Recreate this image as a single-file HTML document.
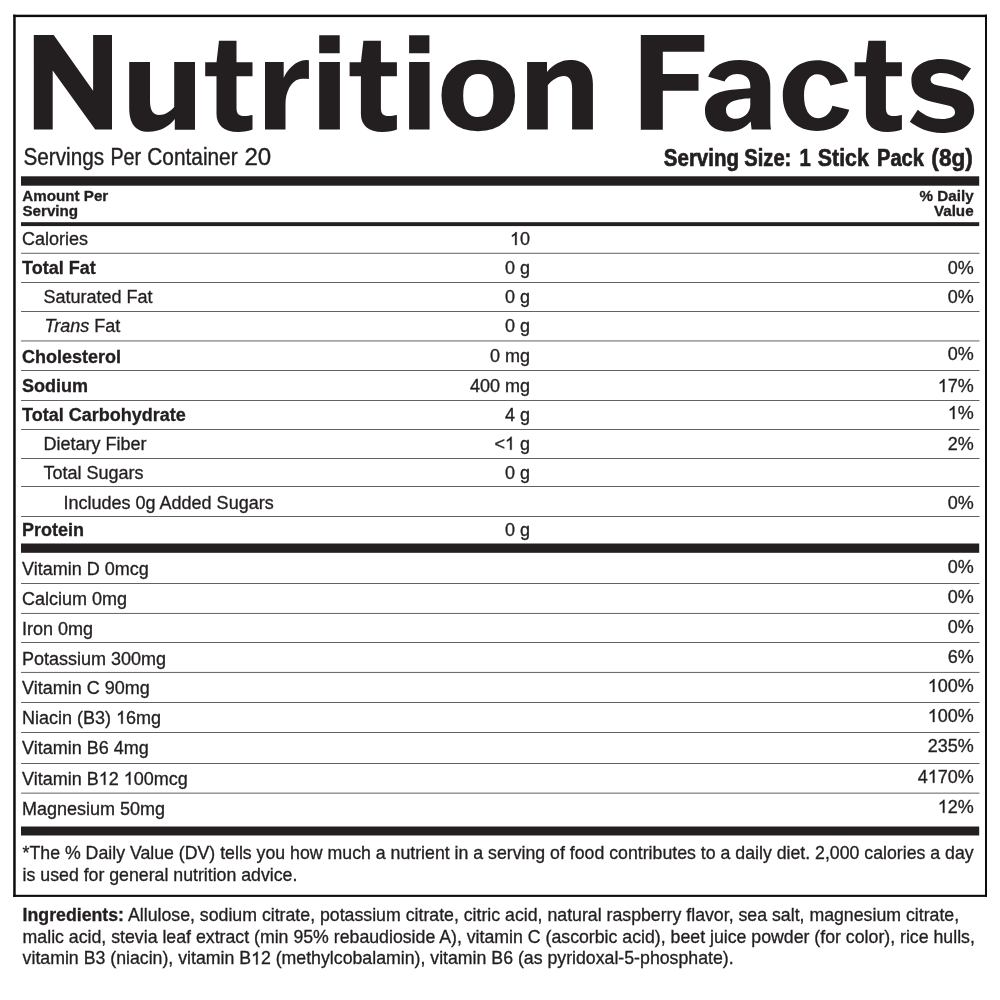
<!DOCTYPE html>
<html><head><meta charset="utf-8"><title>Nutrition Facts</title>
<style>
html,body{margin:0;padding:0;background:#fff;}
svg{display:block;will-change:transform;}
text{font-family:"Liberation Sans",sans-serif;fill:#231f20;}
.b text{stroke:#231f20;stroke-width:0.32px;}
.b .one{fill:none;stroke:none;}
</style></head>
<body>
<svg width="1000" height="1000" viewBox="0 0 1000 1000">
<rect x="0" y="0" width="1000" height="1000" fill="#fff"/>
<rect x="13.2" y="14.7" width="973.8" height="2.4" fill="#0e0c0b"/>
<rect x="13.2" y="14.7" width="2.5" height="882.2" fill="#0e0c0b"/>
<rect x="985.0" y="14.7" width="2.0" height="882.2" fill="#0e0c0b"/>
<rect x="13.2" y="894.8" width="973.8" height="2.1" fill="#0e0c0b"/>
<rect x="21.0" y="176.3" width="958.2" height="9.4" fill="#231f20"/>
<rect x="21.0" y="222.2" width="958.2" height="3.9" fill="#231f20"/>
<rect x="21.0" y="543.5" width="958.2" height="9.3" fill="#231f20"/>
<rect x="21.0" y="826.5" width="958.2" height="9.0" fill="#231f20"/>
<rect x="21.0" y="252.85" width="958.5" height="0.7" fill="#231f20"/>
<rect x="21.0" y="282.1" width="958.5" height="0.7" fill="#231f20"/>
<rect x="21.0" y="311.0" width="958.5" height="0.7" fill="#231f20"/>
<rect x="21.0" y="340.6" width="958.5" height="0.7" fill="#231f20"/>
<rect x="21.0" y="370.05" width="958.5" height="0.7" fill="#231f20"/>
<rect x="21.0" y="400.1" width="958.5" height="0.7" fill="#231f20"/>
<rect x="21.0" y="429.15" width="958.5" height="0.7" fill="#231f20"/>
<rect x="21.0" y="458.15" width="958.5" height="0.7" fill="#231f20"/>
<rect x="21.0" y="486.2" width="958.5" height="0.7" fill="#231f20"/>
<rect x="21.0" y="516.1" width="958.5" height="0.7" fill="#231f20"/>
<rect x="21.0" y="583.15" width="958.5" height="0.7" fill="#231f20"/>
<rect x="21.0" y="612.95" width="958.5" height="0.7" fill="#231f20"/>
<rect x="21.0" y="642.25" width="958.5" height="0.7" fill="#231f20"/>
<rect x="21.0" y="671.95" width="958.5" height="0.7" fill="#231f20"/>
<rect x="21.0" y="702.15" width="958.5" height="0.7" fill="#231f20"/>
<rect x="21.0" y="732.1" width="958.5" height="0.7" fill="#231f20"/>
<rect x="21.0" y="763.15" width="958.5" height="0.7" fill="#231f20"/>
<rect x="21.0" y="792.75" width="958.5" height="0.7" fill="#231f20"/>
<path d="M 33.8 35 L 53.7 35 L 93.1 90.7 L 93.1 35 L 112 35 L 112 129.6 L 95.2 129.6 L 52.7 70.4 L 52.7 129.6 L 33.8 129.6 Z" fill="#231f20" fill-rule="evenodd"/>
<path d="M 129.2 62 L 150 62 L 150 101 C 150 110 153 115 159 115 C 165 115 170 111.5 174.2 107 L 174.2 62 L 195 62 L 195 129.8 L 174.8 129.8 L 174.8 119 C 169 126.5 160 131.8 148.4 131.8 C 135 131.8 129.2 123 129.2 108 Z" fill="#231f20" fill-rule="evenodd"/>
<path d="M 219.0 40.8 L 236.5 40.8 L 236.5 62.2 L 252.5 62.2 L 252.5 76.2 L 236.5 76.2 L 236.5 108 C 236.5 114 239.0 116 244.0 116 C 247.0 116 250.0 115.5 252.5 115 L 252.5 129.5 C 249.0 131 244.0 132 238.0 132 C 224.0 132 216.5 125 216.5 114 L 216.5 76.2 L 205.2 76.2 L 205.2 62.2 L 216.5 62.2 Z" fill="#231f20" fill-rule="evenodd"/>
<path d="M 265 62.1 L 283.7 62.1 L 283.7 78 C 287 70 296 60.1 306 60.1 L 308.9 60.3 L 308.9 79 C 305 78.6 302 78.6 299 79.2 C 291 81 285.5 92 285.5 104 L 285.5 129.6 L 265 129.6 Z" fill="#231f20" fill-rule="evenodd"/>
<path d="M 319.2 62.1 L 339.9 62.1 L 339.9 129.6 L 319.2 129.6 Z M 319.2 35.2 L 339.7 35.2 L 339.7 53.3 L 319.2 53.3 Z" fill="#231f20" fill-rule="evenodd"/>
<path d="M 363.40000000000003 40.8 L 380.90000000000003 40.8 L 380.90000000000003 62.2 L 396.90000000000003 62.2 L 396.90000000000003 76.2 L 380.90000000000003 76.2 L 380.90000000000003 108 C 380.90000000000003 114 383.40000000000003 116 388.40000000000003 116 C 391.40000000000003 116 394.40000000000003 115.5 396.90000000000003 115 L 396.90000000000003 129.5 C 393.40000000000003 131 388.40000000000003 132 382.40000000000003 132 C 368.40000000000003 132 360.90000000000003 125 360.90000000000003 114 L 360.90000000000003 76.2 L 349.6 76.2 L 349.6 62.2 L 360.90000000000003 62.2 Z" fill="#231f20" fill-rule="evenodd"/>
<path d="M 409.1 62.1 L 429.6 62.1 L 429.6 129.6 L 409.1 129.6 Z M 409.1 35.2 L 429.40000000000003 35.2 L 429.40000000000003 53.3 L 409.1 53.3 Z" fill="#231f20" fill-rule="evenodd"/>
<path d="M 527.1 62.1 L 547 62.1 L 547 71.9 C 553 65 561 60.1 570 60.1 C 584 60.1 592.9 68 592.9 84 L 592.9 129.6 L 572.1 129.6 L 572.1 88 C 572.1 80 569 76 564 76 C 558 76 552 80 547.8 85.2 L 547.8 129.6 L 527.1 129.6 Z" fill="#231f20" fill-rule="evenodd"/>
<path d="M 640.8 35 L 704.3 35 L 704.3 51.8 L 662.8 51.8 L 662.8 74.1 L 698.5 74.1 L 698.5 90.7 L 662.8 90.7 L 662.8 129.8 L 640.8 129.8 Z" fill="#231f20" fill-rule="evenodd"/>
<path d="M 868.4 40.8 L 885.9 40.8 L 885.9 62.2 L 901.9 62.2 L 901.9 76.2 L 885.9 76.2 L 885.9 108 C 885.9 114 888.4 116 893.4 116 C 896.4 116 899.4 115.5 901.9 115 L 901.9 129.5 C 898.4 131 893.4 132 887.4 132 C 873.4 132 865.9 125 865.9 114 L 865.9 76.2 L 854.6 76.2 L 854.6 62.2 L 865.9 62.2 Z" fill="#231f20" fill-rule="evenodd"/>
<path d="M 848 81.8 C 845 69 833 60.2 817.2 60.2 C 796 60.2 782.8 75 782.8 95.5 C 782.8 117 796 131 817.2 131 C 834 131 845.5 122 849.2 109.8 L 832.4 105.8 C 830.5 113.5 825 118.2 818 118.2 C 809 118.2 804 109 804 95.5 C 804 82 809.5 74.2 817.2 74.2 C 823.5 74.2 828.5 78.5 830.4 85.4 Z" fill="#231f20" fill-rule="evenodd"/>
<path d="M 971 68.6 C 962 63 952 59 941 59 C 922 59 911.4 68 911.4 80 C 911.4 93 918 99 935 102.5 L 948 105.5 C 953 106.7 955 109 955 112.5 C 955 116.5 950 119 941.5 119 C 933 119 925 116 917.8 109.8 L 909.8 121.8 C 918 128 929 133 941.5 133 C 962 133 974.2 124 974.2 110 C 974.2 96 965 91 949 87.8 L 937 85.2 C 933 84.3 930.6 82.7 930.6 79.5 C 930.6 75.5 935 73 941.5 73 C 949 73 956 76 962.6 80.8 Z" fill="#231f20" fill-rule="evenodd"/>
<path d="M 708.2 76.7 C 712 66 724 60.1 739.6 60.1 C 760 60.1 770.3 70 770.3 86 L 770.3 120 C 770.3 124 770.6 127 771 129.5 L 751.6 129.5 L 750.7 121.4 C 746 127 738 131.5 728 131.5 C 713 131.5 705 122 705 111 C 705 97 716 91 735 89.5 L 750.3 88.3 L 750.3 86 C 750.3 78 745 74 737 74 C 731 74 727 77 724.5 81.4 Z M 750.3 98.2 C 738 99 726 101 726 110 C 726 115.5 730 118.8 736 118.8 C 743 118.8 750.3 113 750.3 105 Z" fill="#231f20" fill-rule="evenodd"/>
<text transform="translate(437.59,128.80) scale(1.3347,1.2526)" x="0" y="0" font-size="100.0" font-weight="bold" stroke="#231f20" stroke-width="1.855">o</text>
<g class="b">
<text transform="translate(23.51,165.0) scale(0.8628,1)" font-size="24" style="stroke-width:0.406px">Servings</text>
<text transform="translate(110.44,165.0) scale(0.8213,1)" font-size="24" style="stroke-width:0.426px">Per</text>
<text transform="translate(147.29,165.0) scale(0.8688,1)" font-size="24" style="stroke-width:0.403px">Container</text>
<text transform="translate(244.47,165.0) scale(1.0040,1)" font-size="24" style="stroke-width:0.349px">20</text>
<text transform="translate(663.86,165.5) scale(0.8536,1)" font-size="24" font-weight="bold" style="stroke-width:0.703px">Serving</text>
<text transform="translate(744.37,165.5) scale(0.8377,1)" font-size="24" font-weight="bold" style="stroke-width:0.716px">Size:</text>
<text transform="translate(799.53,165.5) scale(0.8444,1)" font-size="24" font-weight="bold" style="stroke-width:0.711px">1</text>
<text transform="translate(817.83,165.5) scale(0.8885,1)" font-size="24" font-weight="bold" style="stroke-width:0.675px">Stick</text>
<text transform="translate(877.04,165.5) scale(0.8367,1)" font-size="24" font-weight="bold" style="stroke-width:0.717px">Pack</text>
<text transform="translate(931.36,165.5) scale(0.9429,1)" font-size="24" font-weight="bold" style="stroke-width:0.636px">(8g)</text>
<text x="22.2" y="200.8" font-size="15.2" font-weight="bold">Amount Per</text>
<text x="22.4" y="215.5" font-size="15.2" font-weight="bold">Serving</text>
<text x="973.6" y="200.8" font-size="15.2" font-weight="bold" text-anchor="end">% Daily</text>
<text x="973.6" y="215.5" font-size="15.2" font-weight="bold" text-anchor="end">Value</text>
<text x="22.0" y="244.8" font-size="18">Calories</text>
<text x="530.0" y="245" font-size="18" text-anchor="end"><tspan class="one">1</tspan>0</text>
<text x="22.0" y="274" font-size="18" font-weight="bold">Total Fat</text>
<text x="530.0" y="274" font-size="18" text-anchor="end">0 g</text>
<text x="973.8" y="274" font-size="18" text-anchor="end">0%</text>
<text x="43.5" y="302.8" font-size="18">Saturated Fat</text>
<text x="530.0" y="302.8" font-size="18" text-anchor="end">0 g</text>
<text x="973.8" y="302.8" font-size="18" text-anchor="end">0%</text>
<text x="44.5" y="332" font-size="18"><tspan font-style="italic">Trans</tspan> Fat</text>
<text x="530.0" y="331.8" font-size="18" text-anchor="end">0 g</text>
<text x="22.0" y="363" font-size="18" font-weight="bold">Cholesterol</text>
<text x="530.0" y="362" font-size="18" text-anchor="end">0 mg</text>
<text x="973.8" y="359.8" font-size="18" text-anchor="end">0%</text>
<text x="22.0" y="391.8" font-size="18" font-weight="bold">Sodium</text>
<text x="530.0" y="391.8" font-size="18" text-anchor="end">400 mg</text>
<text x="973.8" y="392" font-size="18" text-anchor="end"><tspan class="one">1</tspan>7%</text>
<text x="22.0" y="421" font-size="18" font-weight="bold">Total Carbohydrate</text>
<text x="530.0" y="421" font-size="18" text-anchor="end">4 g</text>
<text x="973.8" y="419" font-size="18" text-anchor="end"><tspan class="one">1</tspan>%</text>
<text x="43.5" y="450" font-size="18">Dietary Fiber</text>
<text x="530.0" y="449.8" font-size="18" text-anchor="end">&lt;<tspan class="one">1</tspan> g</text>
<text x="973.8" y="450" font-size="18" text-anchor="end">2%</text>
<text x="43.5" y="479" font-size="18">Total Sugars</text>
<text x="530.0" y="478.8" font-size="18" text-anchor="end">0 g</text>
<text x="63.5" y="509" font-size="18">Includes 0g Added Sugars</text>
<text x="973.8" y="508.8" font-size="18" text-anchor="end">0%</text>
<text x="22.0" y="535.8" font-size="18" font-weight="bold">Protein</text>
<text x="530.0" y="535.5" font-size="18" text-anchor="end">0 g</text>
<text x="22.0" y="574.8" font-size="18">Vitamin D 0mcg</text>
<text x="973.8" y="572.8" font-size="18" text-anchor="end">0%</text>
<text x="22.0" y="604.8" font-size="18">Calcium 0mg</text>
<text x="973.8" y="602.8" font-size="18" text-anchor="end">0%</text>
<text x="22.0" y="635" font-size="18">Iron 0mg</text>
<text x="973.8" y="632.8" font-size="18" text-anchor="end">0%</text>
<text x="22.0" y="664.8" font-size="18">Potassium 300mg</text>
<text x="973.8" y="662.8" font-size="18" text-anchor="end">6%</text>
<text x="22.0" y="694" font-size="18">Vitamin C 90mg</text>
<text x="973.8" y="692" font-size="18" text-anchor="end"><tspan class="one">1</tspan>00%</text>
<text x="22.0" y="723.8" font-size="18">Niacin (B3) <tspan class="one">1</tspan>6mg</text>
<text x="973.8" y="722" font-size="18" text-anchor="end"><tspan class="one">1</tspan>00%</text>
<text x="22.0" y="754" font-size="18">Vitamin B6 4mg</text>
<text x="973.8" y="751.8" font-size="18" text-anchor="end">235%</text>
<text x="22.0" y="784.8" font-size="18">Vitamin B<tspan class="one">1</tspan>2 <tspan class="one">1</tspan>00mcg</text>
<text x="973.8" y="782.8" font-size="18" text-anchor="end">4<tspan class="one">1</tspan>70%</text>
<text x="22.0" y="814.8" font-size="18">Magnesium 50mg</text>
<text x="973.8" y="812.8" font-size="18" text-anchor="end"><tspan class="one">1</tspan>2%</text>
<text x="22.6" y="858.8" font-size="17.725">*The % Daily Value (DV) tells you how much a nutrient in a serving of food contributes to a daily diet. 2,000 calories a day</text>
<text x="22.6" y="880.8" font-size="17.725">is used for general nutrition advice.</text>
<text x="22.6" y="920.6" font-size="17.73"><tspan font-weight="bold">Ingredients:</tspan> Allulose, sodium citrate, potassium citrate, citric acid, natural raspberry flavor, sea salt, magnesium citrate,</text>
<text x="22.6" y="942.6" font-size="17.73">malic acid, stevia leaf extract (min 95% rebaudioside A), vitamin C (ascorbic acid), beet juice powder (for color), rice hulls,</text>
<text x="22.6" y="964.4" font-size="17.73">vitamin B3 (niacin), vitamin B<tspan class="one">1</tspan>2 (methylcobalamin), vitamin B6 (as pyridoxal-5-phosphate).</text>
</g>
<g fill="#231f20" stroke="#231f20"><path transform="translate(509.969,245.000) scale(0.008789,-0.008789)" d="M763 0L583 0L583 1147Q518 1085 412.5 1023Q307 961 223 930L223 1104Q374 1175 487 1276Q600 1377 647 1472L763 1472Z" stroke-width="36.41"/>
<path transform="translate(937.769,392.000) scale(0.008789,-0.008789)" d="M763 0L583 0L583 1147Q518 1085 412.5 1023Q307 961 223 930L223 1104Q374 1175 487 1276Q600 1377 647 1472L763 1472Z" stroke-width="36.41"/>
<path transform="translate(947.769,419.000) scale(0.008789,-0.008789)" d="M763 0L583 0L583 1147Q518 1085 412.5 1023Q307 961 223 930L223 1104Q374 1175 487 1276Q600 1377 647 1472L763 1472Z" stroke-width="36.41"/>
<path transform="translate(504.969,449.800) scale(0.008789,-0.008789)" d="M763 0L583 0L583 1147Q518 1085 412.5 1023Q307 961 223 930L223 1104Q374 1175 487 1276Q600 1377 647 1472L763 1472Z" stroke-width="36.41"/>
<path transform="translate(927.753,692.000) scale(0.008789,-0.008789)" d="M763 0L583 0L583 1147Q518 1085 412.5 1023Q307 961 223 930L223 1104Q374 1175 487 1276Q600 1377 647 1472L763 1472Z" stroke-width="36.41"/>
<path transform="translate(116.031,723.800) scale(0.008789,-0.008789)" d="M763 0L583 0L583 1147Q518 1085 412.5 1023Q307 961 223 930L223 1104Q374 1175 487 1276Q600 1377 647 1472L763 1472Z" stroke-width="36.41"/>
<path transform="translate(927.753,722.000) scale(0.008789,-0.008789)" d="M763 0L583 0L583 1147Q518 1085 412.5 1023Q307 961 223 930L223 1104Q374 1175 487 1276Q600 1377 647 1472L763 1472Z" stroke-width="36.41"/>
<path transform="translate(98.703,784.800) scale(0.008789,-0.008789)" d="M763 0L583 0L583 1147Q518 1085 412.5 1023Q307 961 223 930L223 1104Q374 1175 487 1276Q600 1377 647 1472L763 1472Z" stroke-width="36.41"/>
<path transform="translate(123.734,784.800) scale(0.008789,-0.008789)" d="M763 0L583 0L583 1147Q518 1085 412.5 1023Q307 961 223 930L223 1104Q374 1175 487 1276Q600 1377 647 1472L763 1472Z" stroke-width="36.41"/>
<path transform="translate(927.753,782.800) scale(0.008789,-0.008789)" d="M763 0L583 0L583 1147Q518 1085 412.5 1023Q307 961 223 930L223 1104Q374 1175 487 1276Q600 1377 647 1472L763 1472Z" stroke-width="36.41"/>
<path transform="translate(937.769,812.800) scale(0.008789,-0.008789)" d="M763 0L583 0L583 1147Q518 1085 412.5 1023Q307 961 223 930L223 1104Q374 1175 487 1276Q600 1377 647 1472L763 1472Z" stroke-width="36.41"/>
<path transform="translate(251.053,964.400) scale(0.008657,-0.008657)" d="M763 0L583 0L583 1147Q518 1085 412.5 1023Q307 961 223 930L223 1104Q374 1175 487 1276Q600 1377 647 1472L763 1472Z" stroke-width="36.96"/></g>
</svg>
</body></html>
